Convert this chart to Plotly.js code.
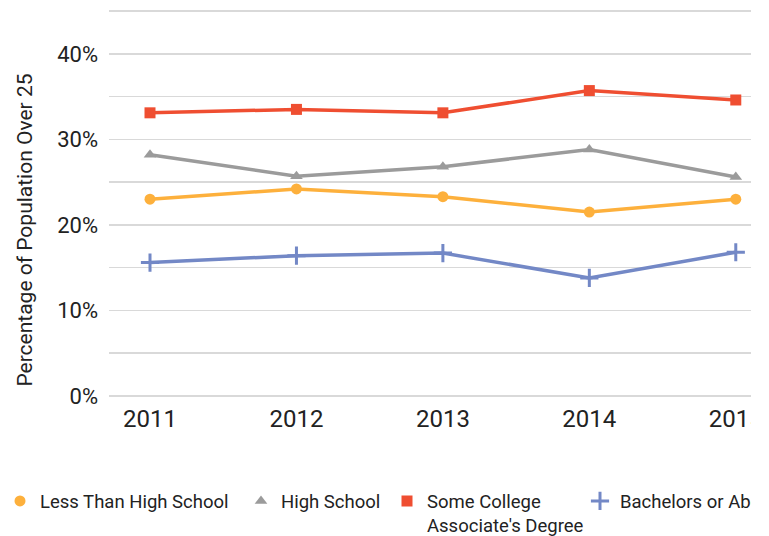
<!DOCTYPE html>
<html>
<head>
<meta charset="utf-8">
<script src="https://cdn.plot.ly/plotly-3.0.1.min.js"></script>
<style>
html,body{margin:0;padding:0;background:#fff;}
#clip{width:751px;height:536px;overflow:hidden;position:relative;}
#chart{width:940px;height:536px;}
</style>
</head>
<body>
<div id="clip"><div id="chart"></div></div>
<script>
const years = ['2011','2012','2013','2014','2015'];
const lessThanHS = [0.230, 0.242, 0.233, 0.215, 0.230];
const highSchool = [0.282, 0.257, 0.268, 0.288, 0.256];
const someCollege = [0.331, 0.335, 0.331, 0.357, 0.346];
const bachelors = [0.156, 0.164, 0.167, 0.138, 0.168];
const seriesNames = ['Less Than High School', 'High School', 'Some College<br>Associate\'s Degree', 'Bachelors or Above'];
const yTitle = 'Percentage of Population Over 25';
const colors = ['#FDB03C', '#9B9B9B', '#EF4E31', '#7388C6'];
const symbols = ['circle', 'triangle-up', 'square', 'cross-thin'];
const values = [lessThanHS, highSchool, someCollege, bachelors];

const W = 940;
const legendLeftPx = [0, 241, 387, 580];
const legendIds = ['legend', 'legend2', 'legend3', 'legend4'];

function mk(i, legend) {
  return {symbol: symbols[i], size: i === 3 ? (legend ? 13 : 13) : (legend ? 11 : 11), color: colors[i],
          line: {color: colors[i], width: i === 3 ? 3 : 0}};
}

const traces = values.map((v, i) => ({
  x: years, y: v, name: seriesNames[i], type: 'scatter', mode: 'lines+markers', showlegend: false,
  line: {color: colors[i], width: 3.5}, marker: mk(i, false)
}));
// legend entries show the marker only, each in its own legend box
values.forEach((v, i) => traces.push({
  x: [null], y: [null], name: seriesNames[i], type: 'scatter', mode: 'markers', showlegend: true,
  legend: legendIds[i], marker: mk(i, true)
}));

const layout = {
  width: W, height: 536,
  margin: {l: 109, r: 131, t: 10, b: 139},
  paper_bgcolor: '#fff', plot_bgcolor: '#fff',
  font: {family: 'Roboto, sans-serif', color: '#222'},
  showlegend: true,
  xaxis: {type: 'category', range: [-0.28, 4.5], showgrid: false, zeroline: false, showline: false,
          ticks: '', tickfont: {size: 24, color: '#222'}, ticklabelstandoff: 5},
  yaxis: {range: [-0.0012, 0.4512], tick0: 0, dtick: 0.1, tickformat: '.0%', showgrid: true,
          gridcolor: '#D9D9D9', gridwidth: 1.5, zeroline: true, zerolinecolor: '#D9D9D9', zerolinewidth: 1.5,
          showline: false, ticks: '',
          tickfont: {size: 22, color: '#222'}, ticklabelstandoff: 10,
          minor: {dtick: 0.05, tick0: 0, showgrid: true, gridcolor: '#D9D9D9', gridwidth: 1.5}},
  annotations: [{text: yTitle, textangle: -90, xref: 'paper', yref: 'paper',
                 x: (25 - 109) / 700, y: (396 - 230) / 386, xanchor: 'center', yanchor: 'middle',
                 showarrow: false, font: {size: 21, color: '#222'}}]
};
legendIds.forEach((id, i) => {
  layout[id] = {orientation: 'h', xref: 'container', yref: 'container', x: legendLeftPx[i] / W, y: 0.1,
                xanchor: 'left', yanchor: 'top', valign: 'top', itemwidth: 30,
                bgcolor: 'rgba(0,0,0,0)', font: {size: 18.5, color: '#222'}};
});

Plotly.newPlot('chart', traces, layout, {displayModeBar: false, staticPlot: true});
</script>
</body>
</html>
